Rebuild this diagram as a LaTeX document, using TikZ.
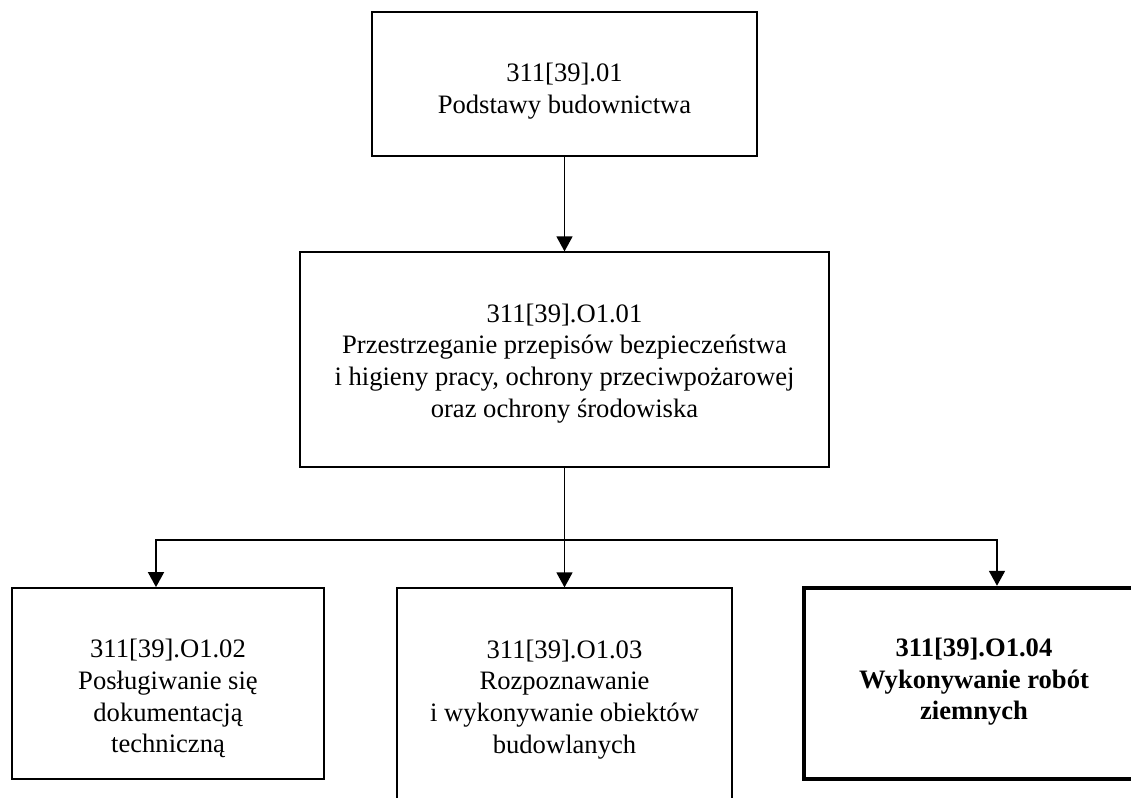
\documentclass[tikz,border=0pt]{standalone}
\usepackage{fontspec}
\setmainfont{Liberation Serif}
\usetikzlibrary{positioning,arrows.meta}
\tikzstyle{modul} = [draw, rectangle, inner sep=0pt, line width=0.6pt]
\tikzstyle{opis} = [anchor=north, align=center, inner sep=0pt, yshift=-26pt, font=\fontsize{13.3}{15.8}\selectfont]
\tikzstyle{strzalka} = [-{Triangle[length=7.5pt,width=8pt]}, line width=0.7pt]

\begin{document}
\begin{tikzpicture}[x=1pt,y=1pt]
	\clip (0,0) rectangle (565.5,399);
	% ramki modulow
	\node[modul, line width=1pt, minimum width=192.5pt, minimum height=72pt] (j01) at (282.25,357) {};
	\node[modul, minimum width=264.5pt, minimum height=107.5pt] (m01) at (282.25,219.25) {};
	\node[modul, line width=0.9pt, minimum width=156pt, minimum height=95.5pt] (m02) at (84,57.25) {};
	\node[modul, minimum width=167.5pt, minimum height=115pt] (m03) at (282.25,47.5) {};
	\node[modul, line width=2.2pt, minimum width=170pt, minimum height=95.5pt] (m04) at (487,57.25) {};
	% opisy
	\node[opis] (t01) at (j01.north) {311[39].01\\Podstawy budownictwa};
	\node[opis] (tm01) at (m01.north) {311[39].O1.01\\Przestrzeganie przepisów bezpieczeństwa\\i higieny pracy, ochrony przeciwpożarowej\\oraz ochrony środowiska};
	\node[opis] (tm02) at (m02.north) {311[39].O1.02\\Posługiwanie się\\dokumentacją\\techniczną};
	\node[opis] (tm03) at (m03.north) {311[39].O1.03\\Rozpoznawanie\\i wykonywanie obiektów\\budowlanych};
	\node[opis, font=\fontsize{13.3}{15.8}\selectfont\bfseries] (tm04) at (m04.north) {311[39].O1.04\\Wykonywanie robót\\ziemnych};
	% polaczenia
	\coordinate (rozgal) at (282.25,129);
	\draw[strzalka] (j01.south) -- (m01.north);
	\draw[line width=0.6pt] (m01.south) -- (rozgal);
	\draw[strzalka, line width=0.9pt] (rozgal) -| ([xshift=-6pt]m02.north);
	\draw[strzalka, line width=0.9pt] (rozgal) -| ([xshift=11.5pt]m04.north);
	\draw[strzalka] (rozgal) -- (m03.north);
\end{tikzpicture}
\end{document}
